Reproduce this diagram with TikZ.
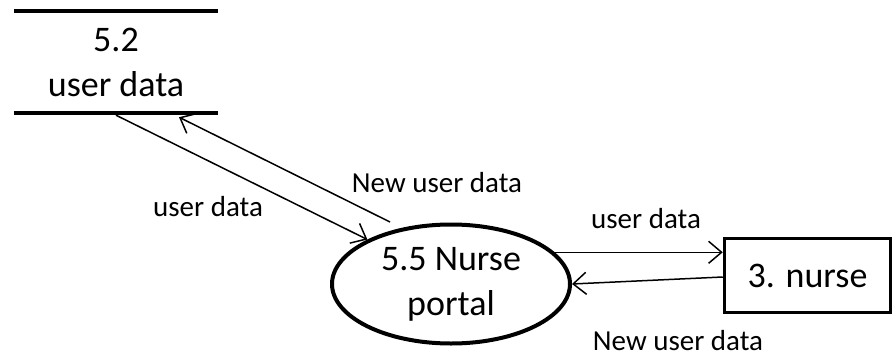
\documentclass[tikz,border=0pt]{standalone}
\usepackage{fontspec}
\setmainfont{Carlito}
\usetikzlibrary{arrows.meta,shapes.geometric}
\begin{document}
\begin{tikzpicture}[x=1pt,y=-1pt,
  big/.style={font=\fontsize{36}{45}\selectfont, align=center, inner sep=0pt},
  small/.style={font=\fontsize{29}{34}\selectfont, inner sep=0pt},
  flow/.style={line width=1.5pt, -{Straight Barb[length=13pt,width=22pt,line width=1.5pt]}},
  process/.style={ellipse, draw, line width=4pt, minimum width=238pt, minimum height=119pt, big},
  entity/.style={rectangle, draw, line width=3.5pt, minimum width=166pt, minimum height=74pt, big},
  storebox/.style={rectangle, minimum width=204pt, minimum height=102pt, big}
]
\useasboundingbox (0,0) rectangle (894,361);
\fill[white] (0,0) rectangle (894,361);

\node[storebox] (store) at (116,62) {5.2\\user data};
\draw[line width=4pt] (store.north west) -- (store.north east);
\draw[line width=4pt] (store.south west) -- (store.south east);

\node[process] (e) at (451,284) {5.5 Nurse\\portal};
\node[entity] (nurse) at (807.5,275.5) {3. nurse};

\draw[flow] ([yshift=-2pt]store.south) -- (e.152);
\draw[flow] ([xshift=-61pt,yshift=62pt]e.center) -- ([xshift=63pt,yshift=-4pt]store.south);
\draw[flow] (e.17) -- (e.17 -| nurse.west);
\draw[flow] ([yshift=-1.5pt]nurse.west) -- (e.east);

\node[small] (l1) at (208,207) {user data};
\node[small] (l2) at (437,183) {New user data};
\node[small] (l3) at (646,219) {user data};
\node[small] (l4) at (678,341) {New user data};
\end{tikzpicture}
\end{document}
